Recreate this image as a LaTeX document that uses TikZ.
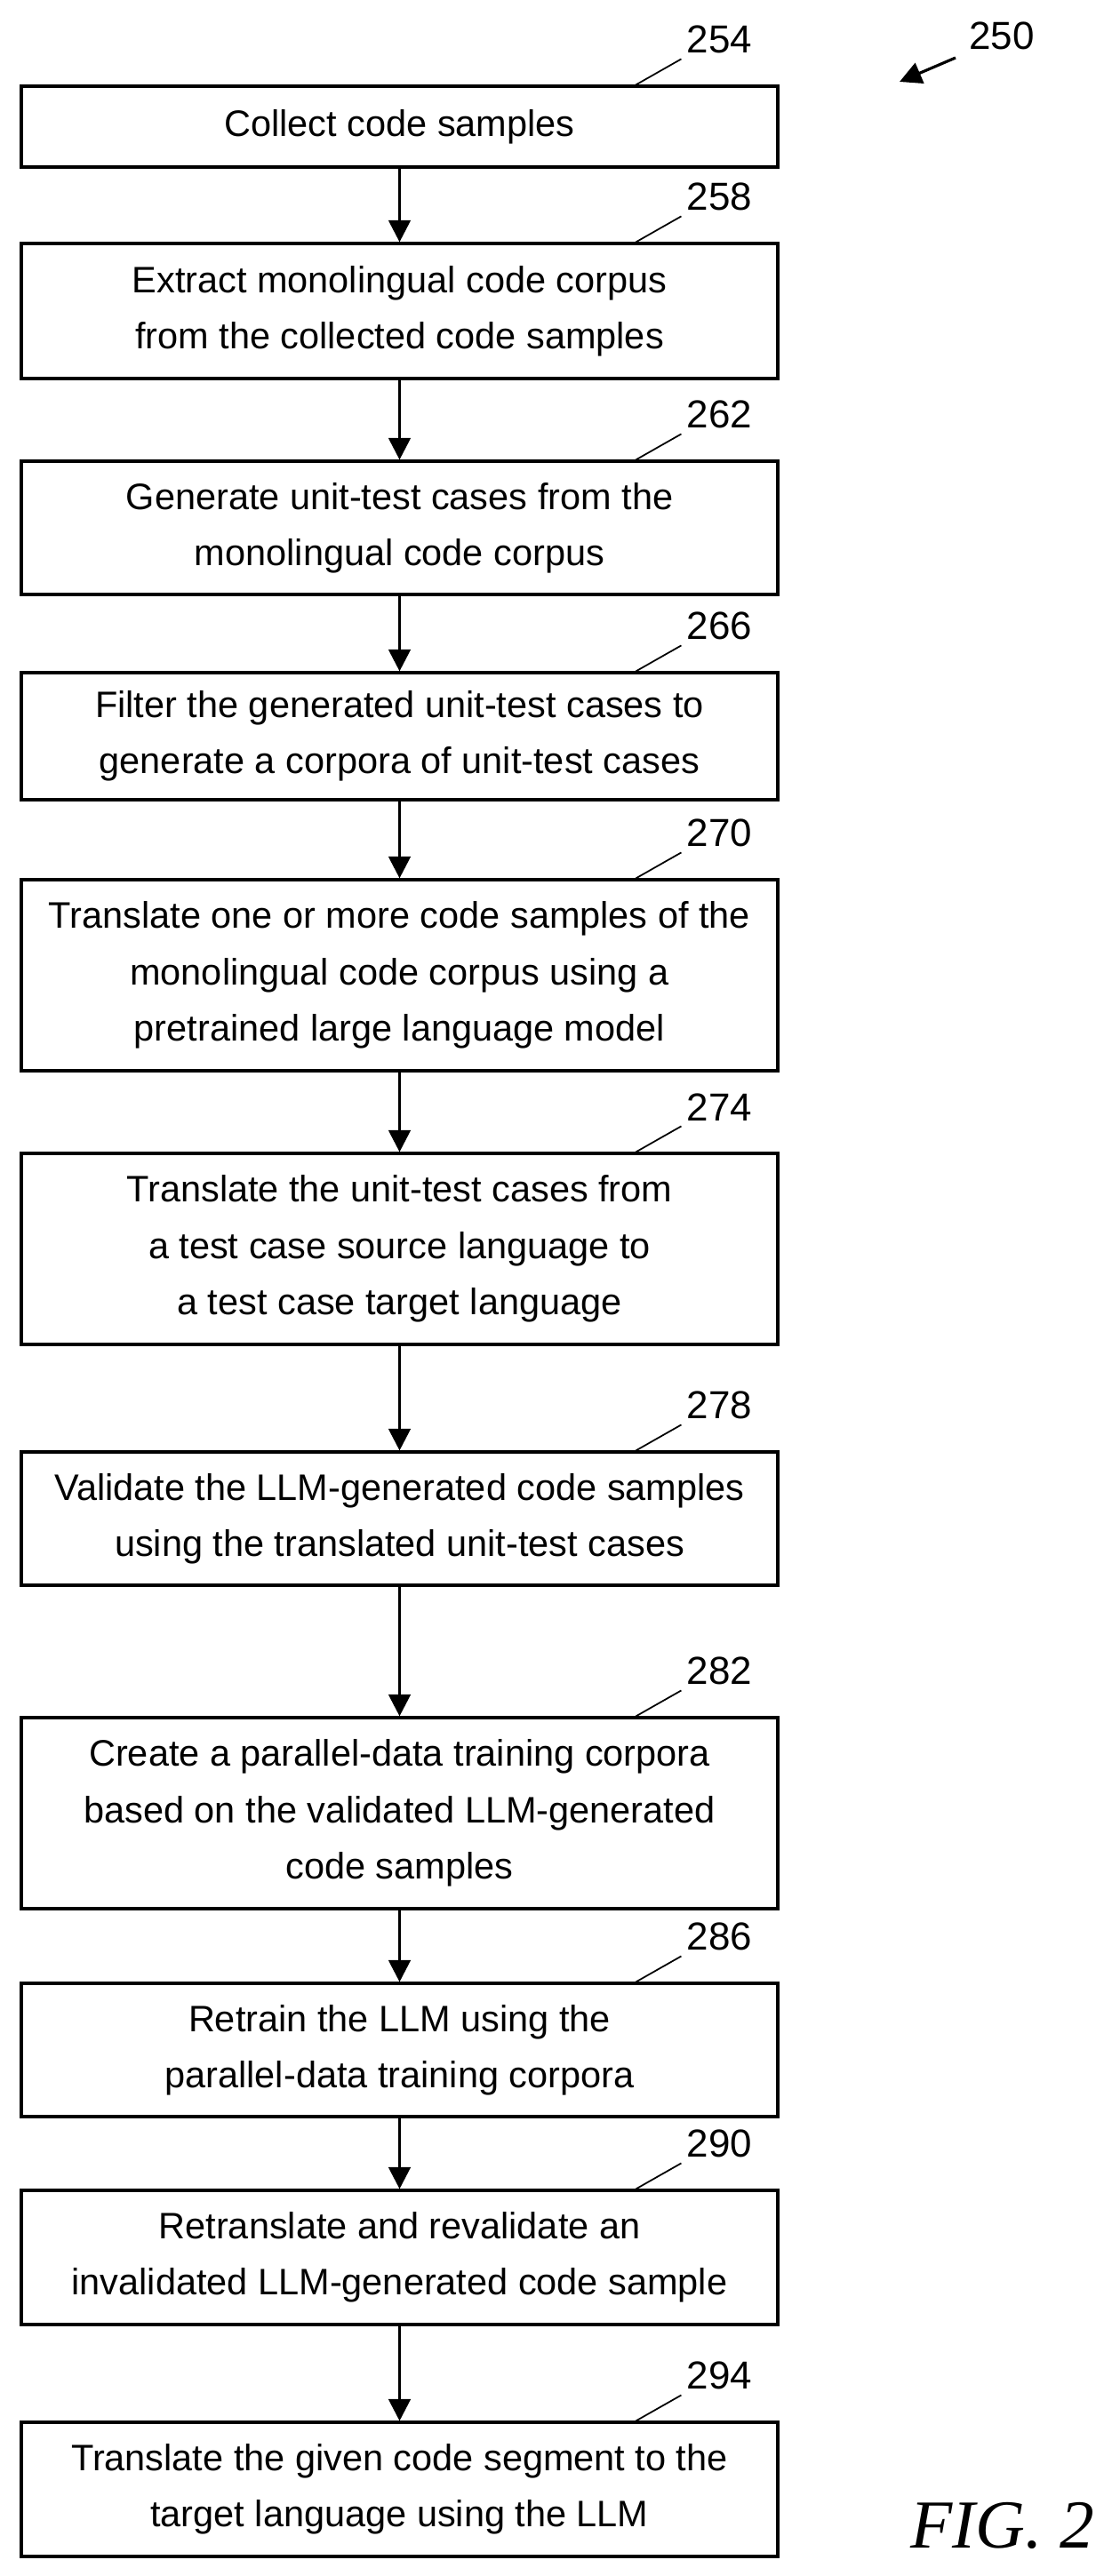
\documentclass[tikz,border=0pt]{standalone}
\usepackage{fontspec}
\setmainfont{Liberation Sans}
\newfontfamily\figfont{Liberation Serif}
\usetikzlibrary{arrows.meta}

\begin{document}
\begin{tikzpicture}[
	stepbox/.style={draw, line width=0.9pt, minimum width=8.51cm, align=center, font=\fontsize{11.8}{18}\selectfont, inner sep=0pt},
	flow/.style={line width=0.9pt, -{Triangle[length=7pt, width=7pt]}},
	leader/.style={line width=0.5pt},
	refnum/.style={anchor=south west, inner sep=1.5pt, font=\fontsize{12.5}{14}\selectfont}
]
	\useasboundingbox (0,0) rectangle (12.33,-28.99);

	\node[font=\fontsize{12.5}{14}\selectfont] (fig) at (11.27, -0.40) {250};
	\coordinate (figtail) at (10.75, -0.65);
	\coordinate (fighead) at (10.12, -0.92);
	\draw[flow] (figtail) -- (fighead);

	\node[stepbox, minimum height=0.91cm] (s1) at (4.495, -1.425) {Collect code samples};
	\node[stepbox, minimum height=1.52cm] (s2) at (4.495, -3.50) {Extract monolingual code corpus\\from the collected code samples};
	\node[stepbox, minimum height=1.50cm] (s3) at (4.495, -5.94) {Generate unit-test cases from the\\monolingual code corpus};
	\node[stepbox, minimum height=1.43cm] (s4) at (4.495, -8.285) {Filter the generated unit-test cases to\\generate a corpora of unit-test cases};
	\node[stepbox, minimum height=2.15cm] (s5) at (4.495, -10.975) {Translate one or more code samples of the\\monolingual code corpus using a\\pretrained large language model};
	\node[stepbox, minimum height=2.15cm] (s6) at (4.495, -14.055) {Translate the unit-test cases from\\a test case source language to\\a test case target language};
	\node[stepbox, minimum height=1.50cm] (s7) at (4.495, -17.09) {Validate the LLM-generated code samples\\using the translated unit-test cases};
	\node[stepbox, minimum height=2.15cm] (s8) at (4.495, -20.405) {Create a parallel-data training corpora\\based on the validated LLM-generated\\code samples};
	\node[stepbox, minimum height=1.50cm] (s9) at (4.495, -23.07) {Retrain the LLM using the\\parallel-data training corpora};
	\node[stepbox, minimum height=1.51cm] (s10) at (4.495, -25.405) {Retranslate and revalidate an\\invalidated LLM-generated code sample};
	\node[stepbox, minimum height=1.51cm] (s11) at (4.495, -28.015) {Translate the given code segment to the\\target language using the LLM};

	% arrows between the steps
	\draw[flow] (s1) -- (s2);
	\draw[flow] (s2) -- (s3);
	\draw[flow] (s3) -- (s4);
	\draw[flow] (s4) -- (s5);
	\draw[flow] (s5) -- (s6);
	\draw[flow] (s6) -- (s7);
	\draw[flow] (s7) -- (s8);
	\draw[flow] (s8) -- (s9);
	\draw[flow] (s9) -- (s10);
	\draw[flow] (s10) -- (s11);

	% reference numerals
	\draw[leader] ([xshift=6.93cm]s1.north west) -- ++(0.51, 0.29) node[refnum] {254};
	\draw[leader] ([xshift=6.93cm]s2.north west) -- ++(0.51, 0.29) node[refnum] {258};
	\draw[leader] ([xshift=6.93cm]s3.north west) -- ++(0.51, 0.29) node[refnum] {262};
	\draw[leader] ([xshift=6.93cm]s4.north west) -- ++(0.51, 0.29) node[refnum] {266};
	\draw[leader] ([xshift=6.93cm]s5.north west) -- ++(0.51, 0.29) node[refnum] {270};
	\draw[leader] ([xshift=6.93cm]s6.north west) -- ++(0.51, 0.29) node[refnum] {274};
	\draw[leader] ([xshift=6.93cm]s7.north west) -- ++(0.51, 0.29) node[refnum] {278};
	\draw[leader] ([xshift=6.93cm]s8.north west) -- ++(0.51, 0.29) node[refnum] {282};
	\draw[leader] ([xshift=6.93cm]s9.north west) -- ++(0.51, 0.29) node[refnum] {286};
	\draw[leader] ([xshift=6.93cm]s10.north west) -- ++(0.51, 0.29) node[refnum] {290};
	\draw[leader] ([xshift=6.93cm]s11.north west) -- ++(0.51, 0.29) node[refnum] {294};

	\node[anchor=base west, inner sep=0pt, font=\figfont\itshape\fontsize{22}{24}\selectfont] (caption) at (10.24, -28.67) {FIG. 2};
\end{tikzpicture}
\end{document}
